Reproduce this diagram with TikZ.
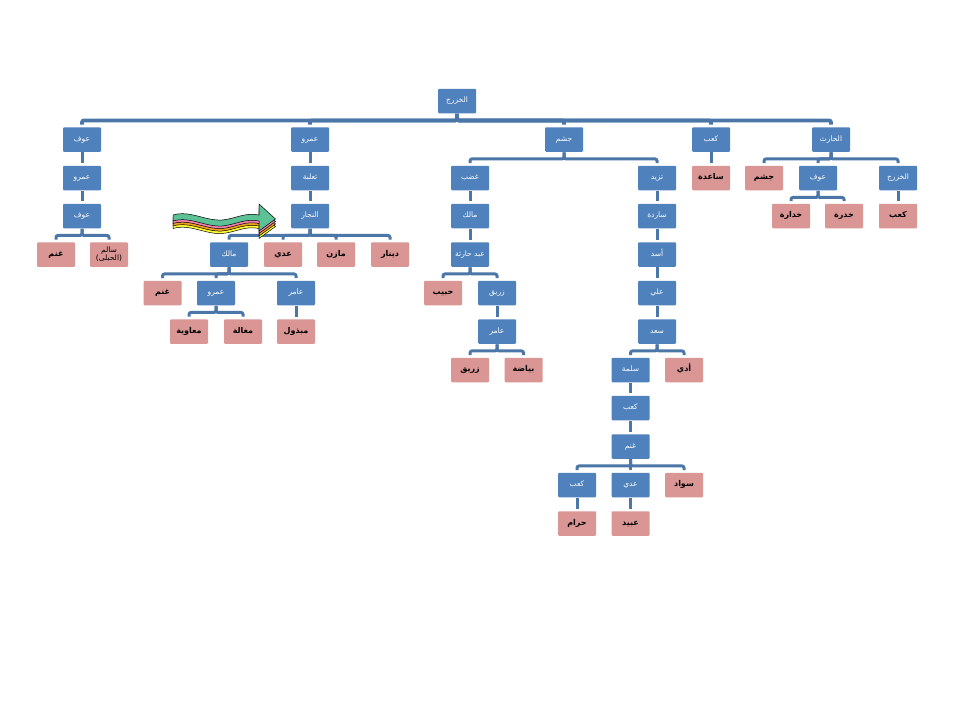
\documentclass[tikz,border=0pt]{standalone}
\usepackage{fontspec}
\usepackage{tikz}
\TeXXeTstate=1
\newfontfamily\arabicfont[Script=Arabic]{DejaVu Sans}
\newcommand{\ar}[1]{\beginR #1\endR}
\definecolor{boxblue}{HTML}{4F81BD}
\definecolor{boxpink}{HTML}{D99694}
\definecolor{linkblue}{HTML}{4A76A8}
\definecolor{ribbongreen}{HTML}{5CC296}
\definecolor{ribbonpink}{HTML}{F27FB2}
\definecolor{ribbonorange}{HTML}{F0A020}
\definecolor{ribbonyellow}{HTML}{FFFF33}
\tikzset{
  person/.style={minimum width=38pt, minimum height=24.5pt, inner sep=0pt, rounded corners=1pt, fill=boxblue, text=white, align=center, text height=4.5pt, text depth=1.5pt, font=\arabicfont\fontsize{7.5}{7.5}\selectfont},
  leaf/.style={person, fill=boxpink, text=black, font=\arabicfont\bfseries\fontsize{8}{8}\selectfont},
  link/.style={draw=linkblue, line width=3pt, rounded corners=2pt, shorten >=2.5pt, shorten <=0.5pt},
  elbow/.style={to path={(\tikztostart) -- ++(0,7) -| (\tikztotarget)}}
}

\begin{document}
\begin{tikzpicture}[x=1pt, y=-1pt]
  \useasboundingbox (0,0) rectangle (960,720);
  \fill[white] (0,0) rectangle (960,720);

  % Top of the tree
  \node[person] (khazraj) at (457,101) {\ar{الخزرج}};
  \node[person] (awfA) at (82,139.5) {\ar{عوف}};
  \node[person] (amrA) at (310,139.5) {\ar{عمرو}};
  \node[person] (jusham) at (564,139.5) {\ar{جشم}};
  \node[person] (kaabA) at (711,139.5) {\ar{كعب}};
  \node[person] (harith) at (831,139.5) {\ar{الحارث}};
  \draw[link, line width=3.8pt] (khazraj.south) to[elbow] (awfA.north);
  \draw[link, line width=3.8pt] (khazraj.south) to[elbow] (amrA.north);
  \draw[link, line width=3.8pt] (khazraj.south) to[elbow] (jusham.north);
  \draw[link, line width=3.8pt] (khazraj.south) to[elbow] (kaabA.north);
  \draw[link, line width=3.8pt] (khazraj.south) to[elbow] (harith.north);

  % 1) Awf
  \node[person] (amrB) at (82,178) {\ar{عمرو}};
  \node[person] (awfB) at (82,216) {\ar{عوف}};
  \node[leaf] (ghanmA) at (56,254.5) {\ar{غنم}};
  \node[leaf, text height=, text depth=, font=\arabicfont\fontsize{7.5}{8}\selectfont] (salim) at (109,254.5) {\ar{سالم}\\\ar{(الحبلى)}};
  \draw[link] (awfA.south) to[elbow] (amrB.north);
  \draw[link] (amrB.south) to[elbow] (awfB.north);
  \draw[link] (awfB.south) to[elbow] (ghanmA.north);
  \draw[link] (awfB.south) to[elbow] (salim.north);

  % 2) Amr
  \node[person] (thalaba) at (310,178) {\ar{ثعلبة}};
  \node[person] (najjar) at (310,216) {\ar{النجار}};
  \node[person] (malikA) at (229,254.5) {\ar{مالك}};
  \node[leaf] (adiA) at (283,254.5) {\ar{عدي}};
  \node[leaf] (mazin) at (336,254.5) {\ar{مازن}};
  \node[leaf] (dinar) at (390,254.5) {\ar{دينار}};
  \node[leaf] (ghanmB) at (162.5,293) {\ar{غنم}};
  \node[person] (amrC) at (216,293) {\ar{عمرو}};
  \node[person] (amirA) at (296,293) {\ar{عامر}};
  \node[leaf] (muawiya) at (189,331.5) {\ar{معاوية}};
  \node[leaf] (maghala) at (243,331.5) {\ar{مغالة}};
  \node[leaf] (mabdhul) at (296,331.5) {\ar{مبذول}};
  \draw[link] (amrA.south) to[elbow] (thalaba.north);
  \draw[link] (thalaba.south) to[elbow] (najjar.north);
  \draw[link] (najjar.south) to[elbow] (malikA.north);
  \draw[link] (najjar.south) to[elbow] (adiA.north);
  \draw[link] (najjar.south) to[elbow] (mazin.north);
  \draw[link] (najjar.south) to[elbow] (dinar.north);
  \draw[link] (malikA.south) to[elbow] (ghanmB.north);
  \draw[link] (malikA.south) to[elbow] (amrC.north);
  \draw[link] (malikA.south) to[elbow] (amirA.north);
  \draw[link] (amrC.south) to[elbow] (muawiya.north);
  \draw[link] (amrC.south) to[elbow] (maghala.north);
  \draw[link] (amirA.south) to[elbow] (mabdhul.north);

  % Wavy ribbon arrow, back layer first
  \foreach \layer/\off in {ribbonyellow/7.5, ribbonorange/5, ribbonpink/2.5, ribbongreen/0} {
    \filldraw[fill=\layer, draw=black, line width=0.5pt, yshift=-\off pt]
      (173,215) .. controls (190,210) and (205,221) .. (222,220)
      .. controls (235,219) and (245,212) .. (259,215)
      -- (259,204) -- (275.5,219) -- (259,231) -- (259,221)
      .. controls (245,218) and (235,225) .. (222,226)
      .. controls (205,227) and (190,216) .. (173,221) -- cycle;
  }

  % 3) Jusham, left side
  \node[person] (ghadab) at (470,178) {\ar{غضب}};
  \node[person] (malikB) at (470,216) {\ar{مالك}};
  \node[person] (abdh) at (470,254.5) {\ar{عبد حارثة}};
  \node[leaf] (habib) at (443,293) {\ar{حبيب}};
  \node[person] (zurayqA) at (497,293) {\ar{زريق}};
  \node[person] (amirB) at (497,331.5) {\ar{عامر}};
  \node[leaf] (zurayqB) at (470,370) {\ar{زريق}};
  \node[leaf] (bayadah) at (523.5,370) {\ar{بياضة}};
  \draw[link] (jusham.south) to[elbow] (ghadab.north);
  \draw[link] (ghadab.south) to[elbow] (malikB.north);
  \draw[link] (malikB.south) to[elbow] (abdh.north);
  \draw[link] (abdh.south) to[elbow] (habib.north);
  \draw[link] (abdh.south) to[elbow] (zurayqA.north);
  \draw[link] (zurayqA.south) to[elbow] (amirB.north);
  \draw[link] (amirB.south) to[elbow] (zurayqB.north);
  \draw[link] (amirB.south) to[elbow] (bayadah.north);

  % 4) Jusham, right side
  \node[person] (tazid) at (657,178) {\ar{تزيد}};
  \node[person] (sarida) at (657,216) {\ar{ساردة}};
  \node[person] (asad) at (657,254.5) {\ar{أسد}};
  \node[person] (ali) at (657,293) {\ar{علي}};
  \node[person] (saad) at (657,331.5) {\ar{سعد}};
  \node[person] (salama) at (630.5,370) {\ar{سلمة}};
  \node[leaf] (udayy) at (684,370) {\ar{أدي}};
  \node[person] (kaabB) at (630.5,408) {\ar{كعب}};
  \node[person] (ghanmC) at (630.5,446.5) {\ar{غنم}};
  \node[person] (kaabC) at (577,485) {\ar{كعب}};
  \node[person] (adiB) at (630.5,485) {\ar{عدي}};
  \node[leaf] (sawad) at (684,485) {\ar{سواد}};
  \node[leaf] (haram) at (577,523.5) {\ar{حرام}};
  \node[leaf] (ubayd) at (630.5,523.5) {\ar{عبيد}};
  \draw[link] (jusham.south) to[elbow] (tazid.north);
  \draw[link] (tazid.south) to[elbow] (sarida.north);
  \draw[link] (sarida.south) to[elbow] (asad.north);
  \draw[link] (asad.south) to[elbow] (ali.north);
  \draw[link] (ali.south) to[elbow] (saad.north);
  \draw[link] (saad.south) to[elbow] (salama.north);
  \draw[link] (saad.south) to[elbow] (udayy.north);
  \draw[link] (salama.south) to[elbow] (kaabB.north);
  \draw[link] (kaabB.south) to[elbow] (ghanmC.north);
  \draw[link] (ghanmC.south) to[elbow] (kaabC.north);
  \draw[link] (ghanmC.south) to[elbow] (adiB.north);
  \draw[link] (ghanmC.south) to[elbow] (sawad.north);
  \draw[link] (kaabC.south) to[elbow] (haram.north);
  \draw[link] (adiB.south) to[elbow] (ubayd.north);

  % 5) Kaab
  \node[leaf] (saida) at (711,178) {\ar{ساعدة}};
  \draw[link] (kaabA.south) to[elbow] (saida.north);

  % 6) Harith
  \node[leaf] (jushamB) at (764,178) {\ar{جشم}};
  \node[person] (awfC) at (818,178) {\ar{عوف}};
  \node[person] (khazrajB) at (898,178) {\ar{الخزرج}};
  \node[leaf] (khudara) at (791,216) {\ar{خدارة}};
  \node[leaf] (khudra) at (844,216) {\ar{خدرة}};
  \node[leaf] (kaabD) at (898,216) {\ar{كعب}};
  \draw[link] (harith.south) to[elbow] (jushamB.north);
  \draw[link] (harith.south) to[elbow] (awfC.north);
  \draw[link] (harith.south) to[elbow] (khazrajB.north);
  \draw[link] (awfC.south) to[elbow] (khudara.north);
  \draw[link] (awfC.south) to[elbow] (khudra.north);
  \draw[link] (khazrajB.south) to[elbow] (kaabD.north);
\end{tikzpicture}
\end{document}
